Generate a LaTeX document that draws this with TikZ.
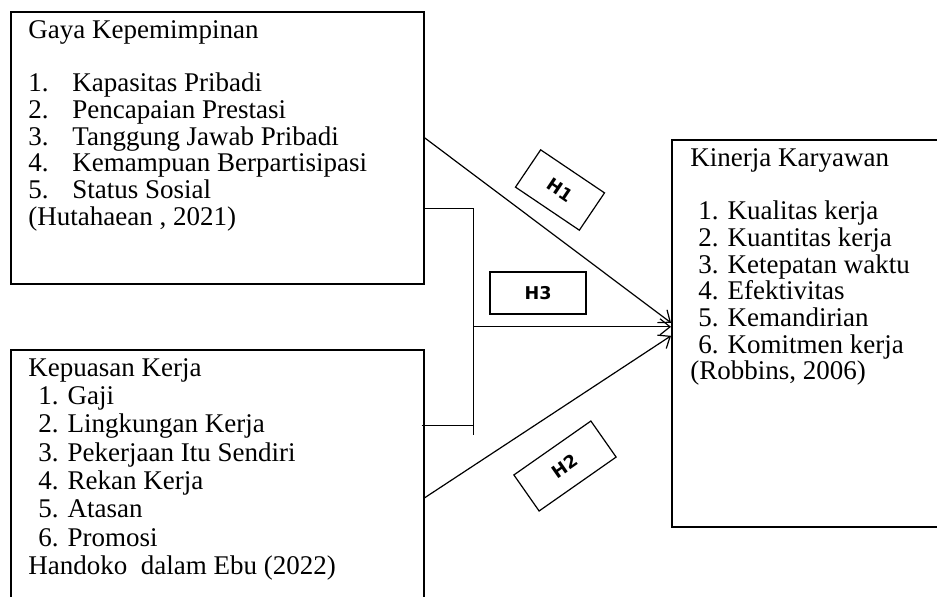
\documentclass[tikz,border=0pt]{standalone}
\usepackage{fontspec}
\setmainfont{Liberation Serif}
\newfontfamily\hypfont{DejaVu Sans}
\usetikzlibrary{arrows.meta,calc}
\begin{document}
\begin{tikzpicture}[
    x=0.5pt, y=-0.5pt,
    box/.style={rectangle, draw, line width=0.8pt, inner sep=0pt, anchor=north west, minimum width=206.5pt},
    list/.style={anchor=north west, inner sep=0pt, align=left, font=\fontsize{13.5}{13.35}\selectfont},
    hyp/.style={rectangle, draw, line width=0.6pt, inner sep=0pt, font=\hypfont\bfseries\fontsize{8.8}{10}\selectfont},
    link/.style={line width=0.6pt, -{Straight Barb[length=5pt,width=8pt]}},
    bar/.style={line width=0.6pt}
]
    \useasboundingbox (0,0) rectangle (937,596);
    \clip (0,0) rectangle (937,596);

    \node[box, minimum height=136pt] (gaya) at (10,11) {};
    \node[list] (gayatext) at (28,20) {Gaya Kepemimpinan\\[13.35pt]
        \makebox[22pt][l]{1.}Kapasitas Pribadi\\
        \makebox[22pt][l]{2.}Pencapaian Prestasi\\
        \makebox[22pt][l]{3.}Tanggung Jawab Pribadi\\
        \makebox[22pt][l]{4.}Kemampuan Berpartisipasi\\
        \makebox[22pt][l]{5.}Status Sosial\\
        (Hutahaean , 2021)};

    \node[box, minimum height=130.5pt] (kepuasan) at (10,349) {};
    \node[list, font=\fontsize{13.5}{14.15}\selectfont] (kepuasantext) at (28,358) {Kepuasan Kerja\\
        \hspace*{5pt}1. Gaji\\
        \hspace*{5pt}2. Lingkungan Kerja\\
        \hspace*{5pt}3. Pekerjaan Itu Sendiri\\
        \hspace*{5pt}4. Rekan Kerja\\
        \hspace*{5pt}5. Atasan\\
        \hspace*{5pt}6. Promosi\\
        Handoko\ \ dalam Ebu (2022)};

    \node[box, minimum width=137pt, minimum height=193.5pt] (kinerja) at (671,139) {};
    \node[list] (kinerjatext) at (690,148) {Kinerja Karyawan\\[13.35pt]
        \hspace*{4pt}1. Kualitas kerja\\
        \hspace*{4pt}2. Kuantitas kerja\\
        \hspace*{4pt}3. Ketepatan waktu\\
        \hspace*{4pt}4. Efektivitas\\
        \hspace*{4pt}5. Kemandirian\\
        \hspace*{4pt}6. Komitmen kerja\\
        (Robbins, 2006)};

    \draw[bar] ($(gaya.east)+(0,61)$) -- ++(49,0) -- ++(0,226);
    \draw[bar] ($(kepuasan.east)+(-3,-54.5)$) -- ++(52,0);
    \coordinate (fork) at ($(gaya.east)+(49,179)$);

    \draw[link] ($(gaya.east)+(0,-10)$) -- ($(kinerja.west)+(0,-10.5)$);
    \draw[link] (fork) -- ($(kinerja.west)+(0,-6.5)$);
    \draw[link] ($(kepuasan.east)+(0,17.5)$) -- ($(kinerja.west)+(0,2.5)$);

    \node[hyp, rotate=-34, minimum width=38.5pt, minimum height=22.5pt] (h1) at (560,190) {H1};
    \node[hyp, minimum width=48pt, minimum height=21pt] (h3) at (538,293) {H3};
    \node[hyp, rotate=35, minimum width=47pt, minimum height=22pt] (h2) at (565,466) {H2};
\end{tikzpicture}
\end{document}
